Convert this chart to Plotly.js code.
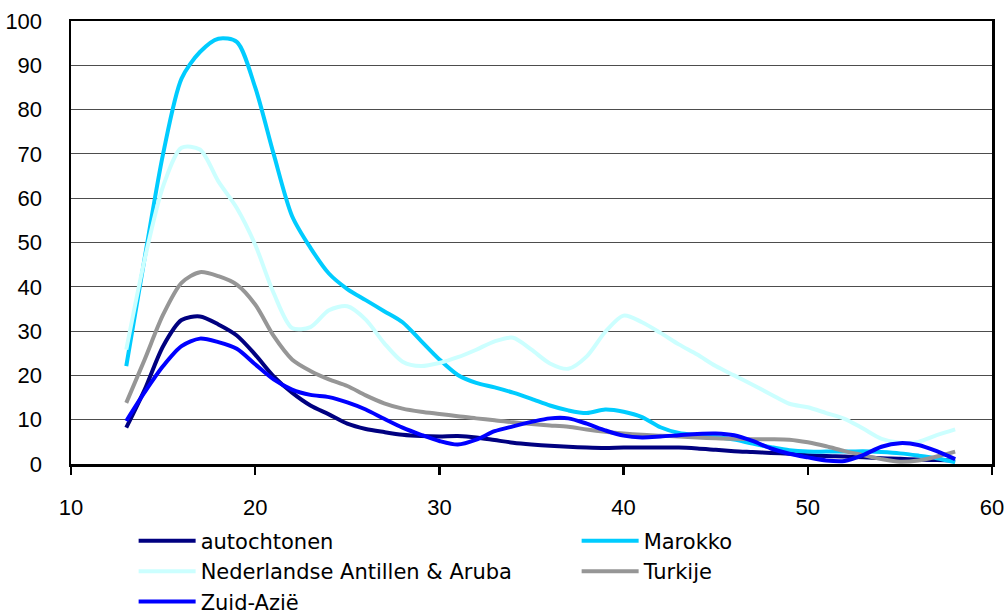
<!DOCTYPE html>
<html>
<head>
<meta charset="utf-8">
<script src="https://cdn.plot.ly/plotly-3.0.1.min.js"></script>
<style>
html,body{margin:0;padding:0;background:#fff;}
#chart{width:1007px;height:616px;}
</style>
</head>
<body>
<div id="chart"></div>
<script>
const ages = [13,14,15,16,17,18,19,20,21,22,23,24,25,26,27,28,29,30,31,32,33,34,35,36,37,38,39,40,41,42,43,44,45,46,47,48,49,50,51,52,53,54,55,56,57,58];

const autochtonen = [8.2,16.8,26.6,32.5,33.3,31.5,29.0,24.7,19.8,16.1,13.2,11.2,9.1,7.9,7.2,6.6,6.3,6.2,6.3,6.0,5.4,4.8,4.4,4.1,3.9,3.7,3.6,3.7,3.7,3.7,3.7,3.5,3.2,2.9,2.7,2.5,2.3,2.0,1.8,1.7,1.5,1.3,1.2,1.0,0.9,0.8];

const marokko = [22.1,46.5,70.0,87.0,93.0,96.0,95.3,85.0,70.0,56.0,48.8,43.0,39.5,37.0,34.5,32.0,27.8,23.6,20.1,18.3,17.3,16.1,14.7,13.2,12.1,11.5,12.3,11.8,10.6,8.3,7.0,6.5,6.1,5.5,4.6,3.8,3.1,2.8,2.8,2.8,2.9,2.7,2.4,1.9,1.3,0.4];

const antillen = [25.8,46.2,62.7,71.4,71.0,63.8,57.8,49.5,38.6,30.7,30.9,34.7,35.6,32.6,27.3,23.1,22.1,22.8,24.1,25.8,27.7,28.5,25.8,22.7,21.5,24.3,29.8,33.5,32.0,29.6,27.0,24.7,22.1,20.0,17.9,15.7,13.6,12.8,11.5,10.2,8.0,5.7,4.8,5.0,6.5,7.8];

const turkije = [13.8,23.6,33.7,40.9,43.3,42.4,40.5,36.0,28.9,23.6,21.0,19.1,17.6,15.5,13.7,12.5,11.8,11.3,10.8,10.3,9.9,9.4,9.0,8.7,8.4,7.8,7.3,6.9,6.6,6.4,6.2,6.0,5.8,5.7,5.6,5.6,5.5,4.9,4.0,2.9,2.0,1.1,0.5,0.8,1.7,2.8];

const zuidAzie = [9.7,16.2,22.1,26.6,28.3,27.5,26.0,22.5,19.1,16.8,15.6,15.1,13.9,12.3,10.2,8.2,6.6,5.2,4.4,5.5,7.4,8.5,9.5,10.3,10.3,9.1,7.6,6.4,6.0,6.2,6.5,6.8,6.9,6.5,5.2,3.5,2.3,1.5,0.8,0.7,2.0,3.9,4.7,4.3,2.9,1.1];

const seriesNames = ["autochtonen","Marokko","Nederlandse Antillen & Aruba","Turkije","Zuid-Azië"];
const seriesValues = [autochtonen, marokko, antillen, turkije, zuidAzie];
const seriesColors = ["#000080","#00CCFF","#CCFFFF","#969696","#0000FF"];
const seriesLegend = ["legend","legend2","legend","legend2","legend"];

const traces = seriesValues.map((vals, i) => ({
  x: ages,
  y: vals,
  type: "scatter",
  mode: "lines",
  name: seriesNames[i],
  legend: seriesLegend[i],
  line: {color: seriesColors[i], width: 4, shape: "spline", smoothing: 0.8},
  hoverinfo: "skip"
}));

const tickFont = {family: "Liberation Sans, Arial, sans-serif", size: 22, color: "#000"};
const legendFont = {family: "DejaVu Sans, Verdana, sans-serif", size: 21, color: "#000"};

const layout = {
  width: 1007,
  height: 616,
  margin: {l: 71, r: 15, t: 21, b: 152, pad: 0, autoexpand: false},
  paper_bgcolor: "#fff",
  plot_bgcolor: "#fff",
  showlegend: true,
  xaxis: {
    range: [10, 60],
    tickvals: [10,20,30,40,50,60],
    ticktext: ["10","20","30","40","50","60"],
    ticks: "outside",
    ticklen: 8,
    tickwidth: 2.5,
    tickcolor: "#000",
    ticklabelstandoff: 14,
    showgrid: false,
    zeroline: false,
    showline: true,
    linecolor: "#000",
    linewidth: 2.5,
    mirror: true,
    tickfont: tickFont,
    fixedrange: true
  },
  yaxis: {
    range: [0, 100],
    tickvals: [0,10,20,30,40,50,60,70,80,90,100],
    ticktext: ["0","10","20","30","40","50","60","70","80","90","100"],
    ticks: "",
    ticklabelstandoff: 22,
    showgrid: true,
    gridcolor: "#4d4d4d",
    gridwidth: 1,
    zeroline: false,
    showline: true,
    linecolor: "#000",
    linewidth: 2.5,
    mirror: true,
    tickfont: tickFont,
    fixedrange: true
  },
  legend: {
    orientation: "v",
    x: 0.068,
    xanchor: "left",
    y: -0.128,
    yanchor: "top",
    itemwidth: 57,
    tracegroupgap: 0,
    bgcolor: "rgba(0,0,0,0)",
    font: legendFont
  },
  legend2: {
    orientation: "v",
    x: 0.549,
    xanchor: "left",
    y: -0.128,
    yanchor: "top",
    itemwidth: 57,
    tracegroupgap: 0,
    bgcolor: "rgba(0,0,0,0)",
    font: legendFont
  }
};

Plotly.newPlot("chart", traces, layout, {staticPlot: true, displayModeBar: false});
</script>
</body>
</html>
